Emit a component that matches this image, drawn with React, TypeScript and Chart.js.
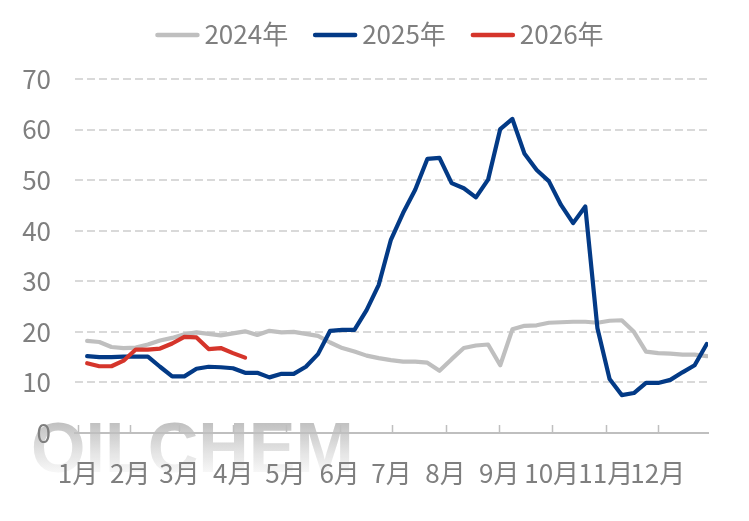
import React, { useEffect, useRef } from "react";
import { Chart, registerables } from "chart.js";

Chart.register(...registerables);

// ---- data ----
const seriesNames = ["2024年", "2025年", "2026年"];
const weeks = [
  1, 2, 3, 4, 5, 6, 7, 8, 9, 10, 11, 12, 13, 14, 15, 16, 17, 18, 19, 20, 21, 22, 23, 24, 25, 26,
  27, 28, 29, 30, 31, 32, 33, 34, 35, 36, 37, 38, 39, 40, 41, 42, 43, 44, 45, 46, 47, 48, 49, 50, 51, 52,
];
const values2024 = [
  18.2, 18.0, 17.0, 16.8, 16.9, 17.5, 18.3, 18.8, 19.5, 19.9, 19.6, 19.3, 19.7, 20.1, 19.4, 20.2, 19.9,
  20.0, 19.6, 19.2, 17.9, 16.8, 16.1, 15.3, 14.8, 14.4, 14.1, 14.1, 13.9, 12.3, 14.6, 16.8, 17.3, 17.5,
  13.4, 20.5, 21.2, 21.3, 21.8, 21.9, 22.0, 22.0, 21.8, 22.2, 22.3, 20.0, 16.1, 15.8, 15.7, 15.5, 15.5, 15.2,
];
const values2025 = [
  15.2, 15.0, 15.0, 15.1, 15.1, 15.1, 13.1, 11.2, 11.2, 12.7, 13.1, 13.0, 12.8, 11.9, 11.9, 11.0, 11.7,
  11.7, 13.1, 15.6, 20.2, 20.4, 20.4, 24.3, 29.3, 38.2, 43.5, 48.1, 54.2, 54.4, 49.4, 48.4, 46.6, 50.1,
  60.1, 62.1, 55.2, 52.0, 49.8, 45.1, 41.5, 44.8, 20.7, 10.7, 7.5, 7.9, 9.9, 9.9, 10.5, 12.0, 13.4, 17.6,
];
const values2026 = [13.8, 13.2, 13.2, 14.3, 16.5, 16.5, 16.7, 17.7, 19.0, 18.9, 16.6, 16.8, 15.8, 14.9];
const monthLabels = ["1月", "2月", "3月", "4月", "5月", "6月", "7月", "8月", "9月", "10月", "11月", "12月"];
const monthTickWeeks = [0.25, 4.55, 8.6, 13.02, 17.33, 21.78, 26.05, 30.5, 34.92, 39.23, 43.68, 47.96];
const yMin = 0;
const yMax = 70;
const yStep = 10;

// ---- styles ----
const FONT = '"Noto Sans CJK SC", "Noto Sans", sans-serif';
const TEXT_COLOR = "#7f7f7f";
const seriesColors = ["#BFBFBF", "#033A86", "#D5352B"];

const toPoints = (vals: number[]) => vals.map((v, i) => ({ x: weeks[i], y: v }));

const watermarkPlugin = {
  id: "watermark",
  beforeDraw(chart: any) {
    const ctx = chart.ctx;
    ctx.save();
    ctx.font = 'bold 70px "Liberation Sans", Arial, sans-serif';
    const g = ctx.createLinearGradient(0, 420, 0, 474);
    g.addColorStop(0, "rgba(185,185,185,0.95)");
    g.addColorStop(1, "rgba(246,246,246,0.75)");
    ctx.fillStyle = g;
    ctx.textAlign = "left";
    ctx.textBaseline = "alphabetic";
    ctx.fillText("OILCHEM", 31, 472);
    ctx.restore();
  },
};

const tickMarksPlugin = {
  id: "tickMarks",
  afterDraw(chart: any) {
    const ctx = chart.ctx;
    const xs = chart.scales.x;
    const bottom = chart.chartArea.bottom;
    ctx.save();
    ctx.strokeStyle = "#BFBFBF";
    ctx.lineWidth = 1.5;
    xs.ticks.forEach((t: any) => {
      const px = Math.round(xs.getPixelForValue(t.value)) + 0.5;
      ctx.beginPath();
      ctx.moveTo(px, bottom - 8);
      ctx.lineTo(px, bottom);
      ctx.stroke();
    });
    ctx.restore();
  },
};

const legendPlugin = {
  id: "customLegend",
  afterDraw(chart: any) {
    const ctx = chart.ctx;
    ctx.save();
    ctx.font = `26px ${FONT}`;
    const lineLen = 44;
    const gap = 5;
    const itemGap = 25;
    const items = chart.data.datasets.map((ds: any) => ({
      label: ds.label,
      color: ds.borderColor,
      w: ctx.measureText(ds.label).width,
    }));
    const total =
      items.reduce((s: number, it: any) => s + lineLen + gap + it.w, 0) + itemGap * (items.length - 1);
    let x = chart.width / 2 + 5 - total / 2;
    const y = 35;
    items.forEach((it: any) => {
      ctx.strokeStyle = it.color;
      ctx.lineWidth = 4.5;
      ctx.lineCap = "round";
      ctx.beginPath();
      ctx.moveTo(x + 2, y);
      ctx.lineTo(x + lineLen - 2, y);
      ctx.stroke();
      ctx.fillStyle = TEXT_COLOR;
      ctx.textAlign = "left";
      ctx.textBaseline = "alphabetic";
      ctx.fillText(it.label, x + lineLen + gap, 44);
      x += lineLen + gap + it.w + itemGap;
    });
    ctx.restore();
  },
};

export default function App() {
  const canvasRef = useRef<HTMLCanvasElement | null>(null);

  useEffect(() => {
    if (!canvasRef.current) return;
    const allValues = [values2024, values2025, values2026];
    const chart = new Chart(canvasRef.current, {
      type: "line",
      data: {
        datasets: seriesNames.map((name, i) => ({
          label: name,
          data: toPoints(allValues[i]),
          borderColor: seriesColors[i],
          backgroundColor: seriesColors[i],
          borderWidth: 4.2,
          pointRadius: 0,
          pointHoverRadius: 0,
          tension: 0,
          fill: false,
          borderJoinStyle: "round" as const,
          borderCapStyle: "round" as const,
          order: 3 - i,
        })),
      },
      options: {
        responsive: false,
        animation: false,
        devicePixelRatio: 1,
        layout: { padding: { top: 79, right: 41, left: 0, bottom: 0 } },
        plugins: {
          legend: { display: false },
          tooltip: { enabled: false },
        },
        scales: {
          x: {
            type: "linear",
            min: 0,
            max: 52.1,
            afterBuildTicks: (scale: any) => {
              scale.ticks = monthTickWeeks.map((v) => ({ value: v }));
            },
            afterFit: (scale: any) => {
              scale.height = 88;
            },
            grid: { display: false, drawTicks: false },
            border: { display: true, color: "#BFBFBF", width: 2 },
            ticks: {
              autoSkip: false,
              maxRotation: 0,
              minRotation: 0,
              padding: 25,
              color: TEXT_COLOR,
              font: { family: FONT, size: 26 },
              callback: (_v: any, idx: number) => monthLabels[idx],
            },
          },
          y: {
            min: yMin,
            max: yMax,
            afterFit: (scale: any) => {
              scale.width = 75;
            },
            grid: {
              color: "#D9D9D9",
              lineWidth: 2,
              drawTicks: false,
            },
            border: { display: false, dash: [8, 4] },
            ticks: {
              stepSize: yStep,
              padding: 24,
              color: TEXT_COLOR,
              font: { family: FONT, size: 26 },
            },
          },
        },
      },
      plugins: [watermarkPlugin, tickMarksPlugin, legendPlugin],
    });
    return () => chart.destroy();
  }, []);

  return (
    <div style={{ position: "absolute", left: 0, top: 0, width: 749, height: 521, background: "#fff" }}>
      <canvas ref={canvasRef} width={749} height={521} style={{ width: 749, height: 521 }} />
    </div>
  );
}
